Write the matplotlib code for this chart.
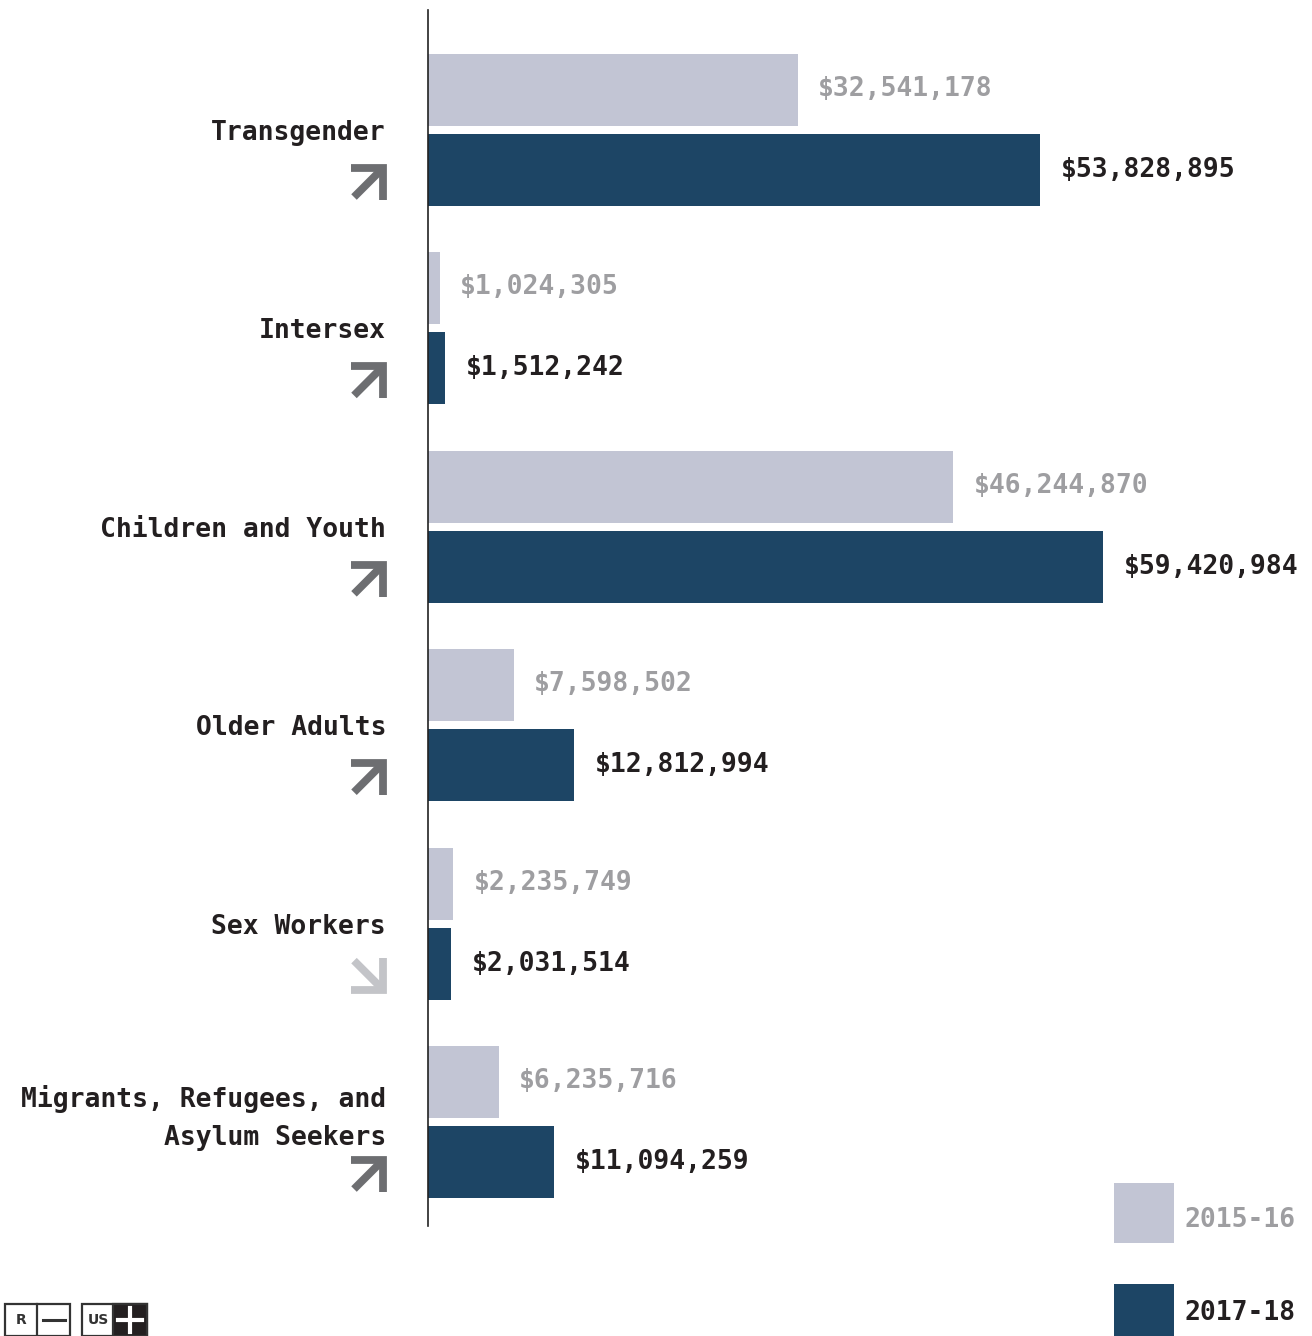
import numpy as np
import matplotlib.pyplot as plt
from matplotlib.patches import Rectangle
from matplotlib.lines import Line2D
from matplotlib.transforms import ScaledTranslation

# funding by population (US$)
categories = ["Transgender", "Intersex", "Children and Youth", "Older Adults",
              "Sex Workers", "Migrants, Refugees, and\nAsylum Seekers"]
funding_2015 = [32541178, 1024305, 46244870, 7598502, 2235749, 6235716]
funding_2017 = [53828895, 1512242, 59420984, 12812994, 2031514, 11094259]
years = ["2015-16", "2017-18"]

LIGHT = "#c2c5d4"
DARK = "#1d4565"
GREY_TXT = "#9e9ea1"
INK = "#231f20"
UP_COL = "#6d6e71"
DOWN_COL = "#c3c4c8"

W, H = 1312, 1336
plt.rcParams['font.family'] = ['DejaVu Sans Mono']
FS = 19

def fx(x):
    return x / W

def fy(y):
    return 1 - y / H

fig = plt.figure(figsize=(W / 100, H / 100), dpi=100)
ax = fig.add_axes([fx(428), fy(1226), 884 / W, 1216 / H])

ys = np.arange(len(categories))
off = 0.2016
bh = 0.363
ax.barh(ys - off, funding_2015, height=bh, color=LIGHT)
ax.barh(ys + off, funding_2017, height=bh, color=DARK)

ax.set_xlim(0, 77.8e6)
ax.set_ylim(5.524, -0.605)
for s in ["top", "right", "bottom"]:
    ax.spines[s].set_visible(False)
ax.spines["left"].set_color("#222222")
ax.spines["left"].set_linewidth(1.2)
ax.set_xticks([])
ax.set_yticks([])

# value labels
for i, (a, b) in enumerate(zip(funding_2015, funding_2017)):
    ax.annotate(f"${a:,}", xy=(a, i - off), xytext=(20, 1), textcoords="offset pixels",
                ha="left", va="center", fontsize=FS, fontweight="bold", color=GREY_TXT)
    ax.annotate(f"${b:,}", xy=(b, i + off), xytext=(21, 0), textcoords="offset pixels",
                ha="left", va="center", fontsize=FS, fontweight="bold", color=INK)

# category labels and change arrows
for i, name in enumerate(categories):
    dy = 4 if "\n" in name else -3
    ax.annotate(name, xy=(0, i), xytext=(-42, dy), textcoords="offset pixels",
                ha="right", va="center", fontsize=FS, fontweight="bold", color=INK,
                linespacing=1.6, annotation_clip=False)
    up = funding_2017[i] > funding_2015[i]
    sgn = 1 if up else -1
    col = UP_COL if up else DOWN_COL
    cx, cy = -59, -52
    trans = fig.dpi_scale_trans + ScaledTranslation(0, i, ax.transData)
    head_x = np.array([-18, 14, 14]) + cx
    head_y = np.array([14 * sgn, 14 * sgn, -18 * sgn]) + cy
    shaft_x = np.array([14, -15]) + cx
    shaft_y = np.array([14 * sgn, -15 * sgn]) + cy
    for xs_, ys_ in [(head_x, head_y), (shaft_x, shaft_y)]:
        ln = Line2D(xs_ / 100, ys_ / 100, transform=trans, color=col, lw=5.6,
                    solid_capstyle="butt", solid_joinstyle="miter", clip_on=False)
        fig.add_artist(ln)

# legend
fig.add_artist(Rectangle((fx(1114), fy(1243)), 60 / W, 60 / H,
                         transform=fig.transFigure, color=LIGHT, lw=0))
fig.add_artist(Rectangle((fx(1114), fy(1340)), 60 / W, 56 / H,
                         transform=fig.transFigure, color=DARK, lw=0))
fig.text(fx(1184), fy(1220), years[0], ha="left", va="center", fontsize=FS,
         fontweight="bold", color=GREY_TXT)
fig.text(fx(1184), fy(1313), years[1], ha="left", va="center", fontsize=FS,
         fontweight="bold", color=INK)

# small logo bottom-left
box = "#333333"
fig.add_artist(Rectangle((fx(5), fy(1336)), 65 / W, 32 / H, transform=fig.transFigure,
                         facecolor="white", edgecolor=box, lw=1.6))
fig.add_artist(Line2D([fx(37), fx(37)], [fy(1336), fy(1304)], transform=fig.transFigure,
                      color=box, lw=1.6))
fig.text(fx(21), fy(1320), "R", ha="center", va="center", fontsize=10,
         fontweight="bold", color=box, family="DejaVu Sans")
fig.add_artist(Line2D([fx(43), fx(65)], [fy(1320), fy(1320)], transform=fig.transFigure,
                      color=box, lw=2.2))
fig.add_artist(Rectangle((fx(82), fy(1336)), 65 / W, 32 / H, transform=fig.transFigure,
                         facecolor="white", edgecolor=box, lw=1.6))
fig.add_artist(Rectangle((fx(113), fy(1336)), 34 / W, 32 / H, transform=fig.transFigure,
                         facecolor="#231f20", edgecolor=box, lw=1.6))
fig.text(fx(98), fy(1320), "US", ha="center", va="center", fontsize=10,
         fontweight="bold", color=box, family="DejaVu Sans")
fig.add_artist(Line2D([fx(118), fx(142)], [fy(1320), fy(1320)], transform=fig.transFigure,
                      color="white", lw=3))
fig.add_artist(Line2D([fx(130), fx(130)], [fy(1308), fy(1332)], transform=fig.transFigure,
                      color="white", lw=3))

fig.savefig("out.png", dpi=100, facecolor="white")
